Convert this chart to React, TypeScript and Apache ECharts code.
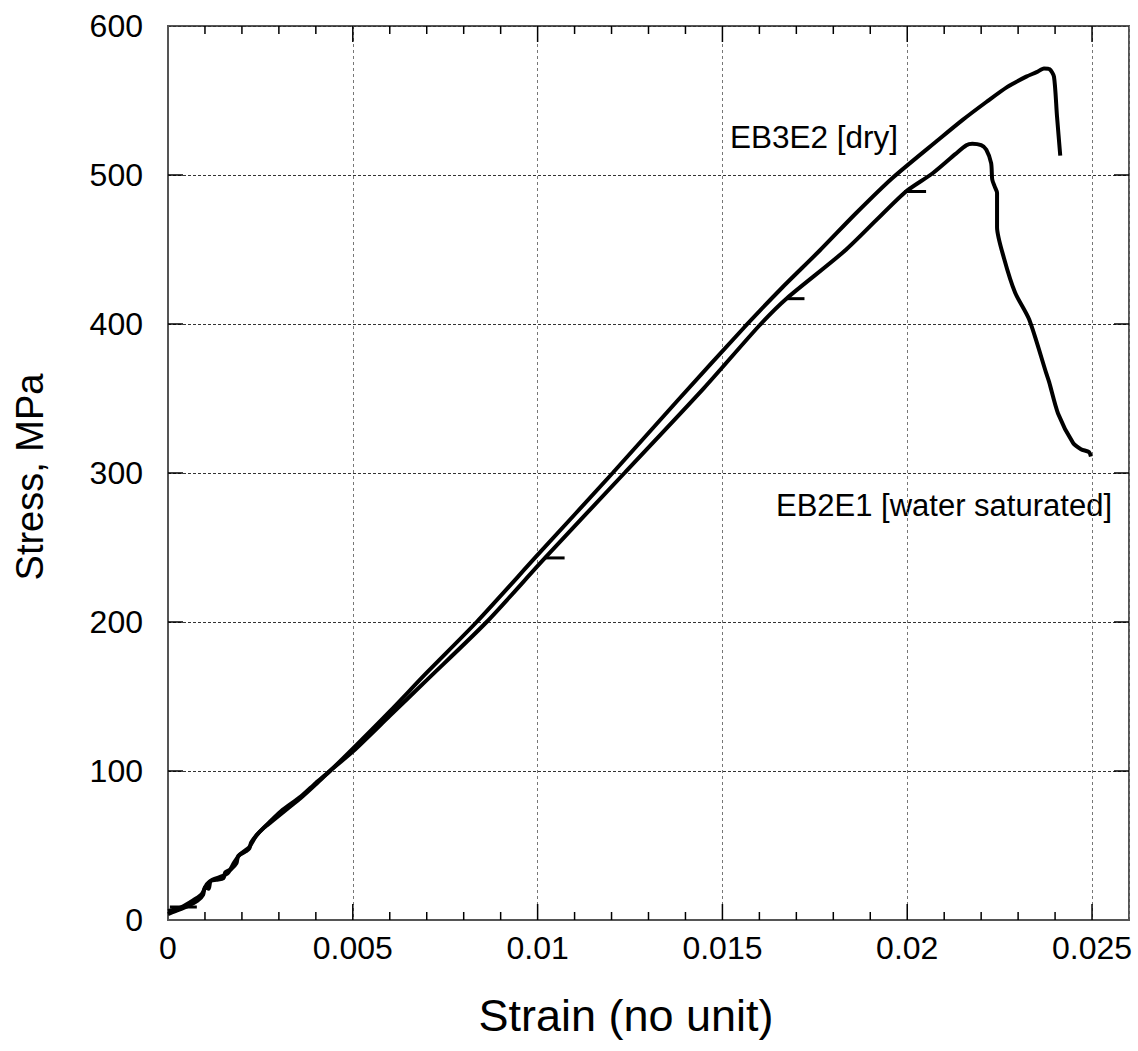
import React, { useEffect, useRef } from "react";
import * as echarts from "echarts";

// EB3E2 [dry] : [strain, stress MPa]
const dryCurve: [number, number][] = [
  [0, 6], [0.0003, 8], [0.0006, 12], [0.0009, 17], [0.00105, 24], [0.0012, 27],
  [0.0016, 31], [0.0018, 39], [0.00195, 44], [0.0022, 49], [0.0024, 57],
  [0.0028, 67], [0.0031, 74], [0.0036, 83], [0.004, 92], [0.00438, 100],
  [0.005, 115], [0.006, 140], [0.007, 166], [0.00835, 200], [0.01, 245],
  [0.01203, 300], [0.0138, 349], [0.0156, 398], [0.0166, 424], [0.01762, 449],
  [0.0186, 474], [0.0196, 498], [0.02086, 524], [0.0215, 537], [0.02214, 549],
  [0.0227, 559], [0.02322, 566], [0.0235, 569], [0.0237, 571.5], [0.02385, 571],
  [0.02397, 566], [0.02405, 540], [0.02414, 513],
];

// EB2E1 [water saturated]
const wetCurve: [number, number][] = [
  [0, 4], [0.0002, 6], [0.0005, 9], [0.0008, 13], [0.00095, 17], [0.001, 22],
  [0.0011, 21], [0.00115, 26], [0.0013, 27], [0.0015, 28], [0.00155, 32],
  [0.0017, 34], [0.00185, 38], [0.0019, 43], [0.0021, 46], [0.0022, 48],
  [0.00225, 52], [0.0024, 57], [0.0026, 62], [0.0028, 66], [0.003, 70],
  [0.0033, 76], [0.0036, 82], [0.004, 91], [0.00438, 100], [0.005, 113],
  [0.006, 137], [0.007, 161], [0.00862, 200], [0.0102, 243], [0.01235, 300],
  [0.0145, 357], [0.016, 399], [0.01673, 417], [0.01835, 450], [0.01992, 488],
  [0.02068, 501], [0.0213, 514], [0.0216, 520], [0.02176, 521], [0.022, 520],
  [0.02214, 517], [0.02227, 508], [0.0223, 497], [0.02237, 492], [0.02243, 488],
  [0.02243, 465], [0.02262, 444], [0.02292, 421], [0.0233, 403], [0.02376, 367],
  [0.02384, 361], [0.02408, 340], [0.02449, 320], [0.0247, 316], [0.02492, 314],
  [0.02497, 311],
];

// short horizontal artefacts on the water-saturated record
const wetMarks: [number, number][][] = [
  [[0.00005, 8.7], [0.00078, 8.7]],
  [[0.0102, 243], [0.01073, 243]],
  [[0.01673, 417], [0.01722, 417]],
  [[0.01992, 489], [0.02051, 489]],
];

const xMin = 0;
const xMax = 0.026;
const xStep = 0.005;
const yMin = 0;
const yMax = 600;
const yStep = 100;

// tick positions (inward ticks on all four sides)
const xMajorTicks = [0.005, 0.01, 0.015, 0.02, 0.025];
const xMinorTicks = [
  0.001, 0.002, 0.003, 0.004, 0.006, 0.007, 0.008, 0.009, 0.011, 0.012, 0.013, 0.014,
  0.016, 0.017, 0.018, 0.019, 0.021, 0.022, 0.023, 0.024,
];
const yMajorTicks = [100, 200, 300, 400, 500];

const labelDry = "EB3E2 [dry]";
const labelWet = "EB2E1 [water saturated]";
const xTitle = "Strain (no unit)";
const yTitle = "Stress, MPa";

const FONT = '"Liberation Sans", Arial, Helvetica, sans-serif';

export default function App() {
  const ref = useRef<HTMLDivElement>(null);
  useEffect(() => {
    document.body.style.margin = "0";
    const chart = echarts.init(ref.current!, undefined, { renderer: "svg" });
    const frame = { show: true, onZero: false, lineStyle: { color: "#555", width: 2 } };
    const xFmt = (v: number) => {
      const r = Math.round(v / xStep);
      if (Math.abs(v - r * xStep) > 1e-9) return "";
      return String(parseFloat(v.toFixed(4)));
    };
    const tickStyle = { stroke: "#000", lineWidth: 1.5 };
    const xTickSeries = (ticks: number[], len: number) => ({
      type: "custom",
      silent: true,
      clip: false,
      z: 5,
      data: ticks.map((v) => [v, yMin]),
      encode: { x: 0, y: 1 },
      renderItem: (params: any, api: any) => {
        const cs = params.coordSys;
        const p = api.coord([api.value(0), yMin]);
        return {
          type: "group",
          children: [
            { type: "line", shape: { x1: p[0], y1: cs.y + cs.height, x2: p[0], y2: cs.y + cs.height - len }, style: tickStyle },
            { type: "line", shape: { x1: p[0], y1: cs.y, x2: p[0], y2: cs.y + len }, style: tickStyle },
          ],
        };
      },
    });
    const yTickSeries = (ticks: number[], len: number) => ({
      type: "custom",
      silent: true,
      clip: false,
      z: 5,
      data: ticks.map((v) => [xMin, v]),
      encode: { x: 0, y: 1 },
      renderItem: (params: any, api: any) => {
        const cs = params.coordSys;
        const p = api.coord([xMin, api.value(1)]);
        return {
          type: "group",
          children: [
            { type: "line", shape: { x1: cs.x, y1: p[1], x2: cs.x + len, y2: p[1] }, style: tickStyle },
            { type: "line", shape: { x1: cs.x + cs.width, y1: p[1], x2: cs.x + cs.width - len, y2: p[1] }, style: tickStyle },
          ],
        };
      },
    });
    const lineStyle = { color: "#000", width: 4 };
    const option: any = {
      animation: false,
      backgroundColor: "#fff",
      grid: { left: 168, top: 26, right: 9, bottom: 131, show: true, borderColor: "#555", borderWidth: 2, backgroundColor: "transparent" },
      xAxis: {
        type: "value", min: xMin, max: xMax, interval: xStep,
        axisLine: frame, axisTick: { show: false },
        axisLabel: { formatter: xFmt, fontSize: 32, color: "#000", margin: 12, fontFamily: FONT },
        splitLine: { show: true, lineStyle: { type: [3, 3], color: "#777", width: 1 } },
      },
      yAxis: {
        type: "value", min: yMin, max: yMax, interval: yStep,
        axisLine: frame, axisTick: { show: false },
        axisLabel: { fontSize: 32, color: "#000", margin: 25, fontFamily: FONT },
        splitLine: { show: true, lineStyle: { type: [3, 2], color: "#333", width: 1 } },
      },
      series: [
        xTickSeries(xMajorTicks, 16),
        xTickSeries(xMinorTicks, 8),
        yTickSeries(yMajorTicks, 15),
        { type: "line", name: labelDry, data: dryCurve, showSymbol: false, smooth: 0.25, lineStyle, z: 3 },
        { type: "line", name: labelWet, data: wetCurve, showSymbol: false, smooth: 0.25, lineStyle, z: 3 },
        ...wetMarks.map((seg) => ({
          type: "line", data: seg, showSymbol: false, lineStyle: { color: "#000", width: 3 }, z: 3,
        })),
      ],
      graphic: [
        { type: "text", style: { text: labelDry, x: 730, y: 137, verticalAlign: "middle", fontSize: 31.5, fontFamily: FONT, fill: "#000" } },
        { type: "text", style: { text: labelWet, x: 1112, y: 505, align: "right", verticalAlign: "middle", fontSize: 31, fontFamily: FONT, fill: "#000" } },
        { type: "text", style: { text: xTitle, x: 626, y: 1015, align: "center", verticalAlign: "middle", fontSize: 45, fontFamily: FONT, fill: "#000" } },
        { type: "text", x: 30, y: 477, rotation: Math.PI / 2, style: { text: yTitle, x: 0, y: 0, align: "center", verticalAlign: "middle", fontSize: 38, fontFamily: FONT, fill: "#000" } },
      ],
    };
    chart.setOption(option);
    return () => chart.dispose();
  }, []);
  return <div ref={ref} style={{ width: 1138, height: 1051 }} />;
}
